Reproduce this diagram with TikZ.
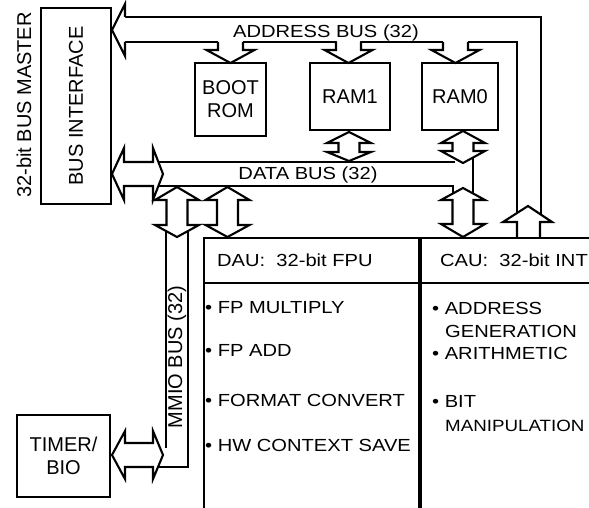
\documentclass[tikz,border=0pt]{standalone}
\usepackage{fontspec}
\setmainfont{Liberation Sans}
\newfontfamily\widesf{Liberation Sans}[FakeStretch=1.15]
\usetikzlibrary{positioning}

% hohler Doppelpfeil (senkrecht): Mitte x, Spitze oben, Widerhaken oben, Widerhaken unten, Spitze unten
\newcommand{\vbusarrow}[5]{%
  \draw[head] (#1,#2) -- ({#1+22},#3) -- ({#1+10.5},#3) -- ({#1+10.5},#4) -- ({#1+22},#4)
    -- (#1,#5) -- ({#1-22},#4) -- ({#1-10.5},#4) -- ({#1-10.5},#3) -- ({#1-22},#3) -- cycle;}

\begin{document}
\begin{tikzpicture}[x=1pt, y=-1pt,
        bus/.style={line width=2.1pt},
        head/.style={bus, fill=white},
        box/.style={draw, line width=2pt, inner sep=0pt, align=center},
        lbl/.style={font=\fontsize{20}{23}\selectfont},
        txt/.style={font=\widesf\fontsize{17.5}{20}\selectfont, inner sep=0pt}
      ]
        % Bildausschnitt
        \useasboundingbox (0,0) rectangle (589,508);
        \clip (0,0) rectangle (589,508);

        % Adressbus
        \draw[bus] (125,17) -- (541,17) -- (541,222);
        \draw[bus] (125,42) -- (218,42) (243,42) -- (337,42) (360,42) -- (443,42) (468,42) -- (517,42) -- (517,222);
        \draw[head] (125,17) -- (125,4) -- (112,30) -- (125,56) -- (125,42);
        \foreach \c in {230.5,348.5,455.5} {%
          \draw[head] ({\c-12.5},42) -- ({\c-12.5},50) -- ({\c-24},50) -- (\c,63) -- ({\c+24},50) -- ({\c+12.5},50) -- ({\c+12.5},42);
        }
        \draw[head] (517,237) -- (517,222) -- (503,222) -- (528,206) -- (552,222) -- (540,222) -- (540,237);

        % Datenbus
        \draw[bus] (153,162) -- (455,162);
        \draw[bus] (153,186) -- (453,186) -- (453,205);
        \draw[bus] (473,148) -- (473,205);
        \draw[head] (112,174) -- (124,148) -- (124,162) -- (153,162) -- (153,148) -- (163,174)
          -- (153,200) -- (153,186) -- (124,186) -- (124,200) -- cycle;
        \vbusarrow{349}{132}{143}{152}{161}
        \vbusarrow{463}{131}{143}{151}{163}
        \vbusarrow{463}{188}{200}{224}{237}
        \vbusarrow{227.5}{187}{200}{225}{237}

        % MMIO-Bus
        \draw[bus] (166,230) -- (166,448);
        \draw[bus] (188,230) -- (188,467) -- (153,467);
        \vbusarrow{177}{187}{200}{225}{237}
        \draw[head] (112,455) -- (125,431) -- (125,443) -- (153,443) -- (153,431) -- (163,455)
          -- (153,479) -- (153,467) -- (125,467) -- (125,479) -- cycle;

        % Bausteine
        \node[box, lbl, rotate=90, minimum width=196pt, minimum height=70pt] (bim) at (76,106) {BUS INTERFACE};
        \node[box, lbl, minimum width=71pt, minimum height=73pt] (boot) at (230.5,99.5) {BOOT\\ROM};
        \node[box, lbl, minimum width=80pt, minimum height=67pt] (ram1) at (350,96.5) {RAM1};
        \node[box, lbl, minimum width=76pt, minimum height=67pt] (ram0) at (460,96.5) {RAM0};
        \node[box, lbl, minimum width=93pt, minimum height=82pt] (timer) at (63.5,456) {TIMER/\\BIO};
        \node[box, anchor=north west, minimum width=215pt, minimum height=300pt] (dau) at (203,237) {};
        \node[box, anchor=north west, minimum width=200pt, minimum height=300pt] (cau) at (dau.north east) {};
        \draw[line width=2pt] (203,283) -- (600,283);

        % Beschriftungen
        \node[lbl, rotate=90] (master) at (24,105) {32-bit BUS MASTER};
        \node[txt] (abus) at (326,33) {ADDRESS BUS (32)};
        \node[txt] (dbus) at (308,175) {DATA BUS (32)};
        \node[lbl, rotate=90] (mmio) at (177,357) {MMIO BUS (32)};

        \node[txt, anchor=west] (dauh) at (217,260) {DAU:\ \ 32-bit FPU};
        \node[txt, anchor=west] (cauh) at (440,260) {CAU:\ \ 32-bit INT};
        \foreach [count=\i] \t/\y in {FP MULTIPLY/308, FP ADD/350, FORMAT CONVERT/400, HW CONTEXT SAVE/445} {%
          \node[txt, anchor=west] (dau\i) at (205,\y) {• \t};
        }
        \node[txt, anchor=west] (cau1) at (432,308) {• ADDRESS};
        \node[txt, anchor=west] (cau1b) at (445,331) {GENERATION};
        \node[txt, anchor=west] (cau2) at (432,353) {• ARITHMETIC};
        \node[txt, anchor=west] (cau3) at (432,401) {• BIT};
        \node[txt, anchor=west, font=\widesf\fontsize{16.3}{19}\selectfont] (cau3b) at (445,426) {MANIPULATION};
      \end{tikzpicture}
\end{document}
